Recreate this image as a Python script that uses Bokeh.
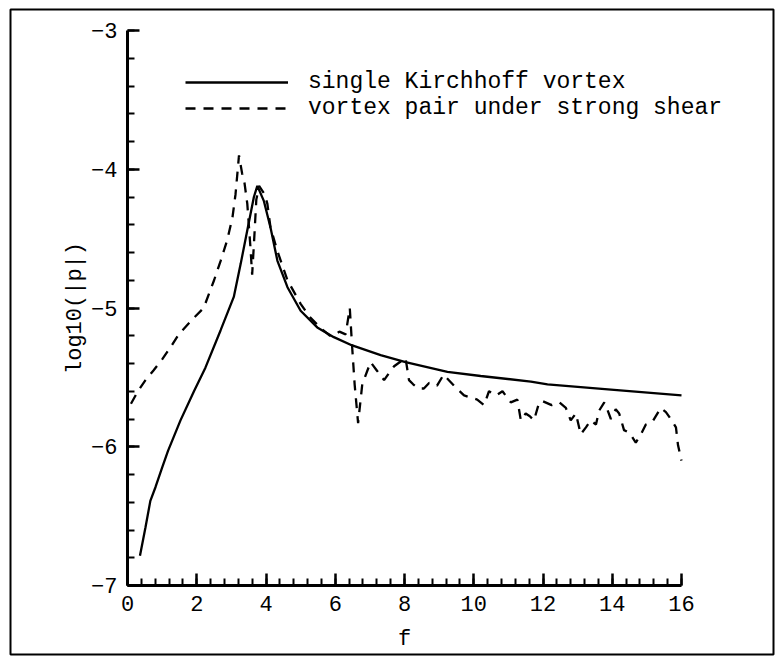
from bokeh.plotting import figure
from bokeh.models import Range1d, Legend, LegendItem, BoxAnnotation, SingleIntervalTicker
from bokeh.embed import file_html
from bokeh.resources import INLINE

# single Kirchhoff vortex
f_single = [0.36, 0.52, 0.66, 0.81, 1.0, 1.17, 1.53, 1.92, 2.25, 2.69, 3.07, 3.27, 3.46, 3.65, 3.75,
            3.94, 4.13, 4.33, 4.62, 5.0, 5.48, 5.96, 6.49, 7.31, 8.03, 9.24, 10.2, 11.65, 12.13, 14.05, 16.0]
p_single = [-6.785, -6.58, -6.39, -6.29, -6.15, -6.03, -5.81, -5.60, -5.43, -5.16, -4.92, -4.68, -4.44, -4.20, -4.12,
            -4.23, -4.42, -4.66, -4.85, -5.02, -5.14, -5.21, -5.27, -5.34, -5.39, -5.46, -5.49, -5.53, -5.55, -5.59, -5.63]

# vortex pair under strong shear
f_pair = [0.1, 0.3, 0.52, 0.75, 1.0, 1.25, 1.48, 1.7, 1.92, 2.2, 2.5, 2.69, 2.88, 3.03, 3.12, 3.22, 3.31, 3.38,
          3.46, 3.55, 3.6, 3.66, 3.72, 3.8, 3.88, 3.96, 4.04, 4.13, 4.33, 4.62, 5.0, 5.25, 5.48, 5.65, 5.85,
          6.0, 6.12, 6.3, 6.42, 6.48, 6.56, 6.66, 6.78, 7.02, 7.2, 7.41, 7.55, 7.7, 8.03, 8.13, 8.25, 8.4,
          8.56, 8.71, 8.94, 9.13, 9.43, 9.72, 10.1, 10.3, 10.44, 10.65, 10.83, 11.07, 11.26, 11.36, 11.5,
          11.62, 11.74, 11.89, 11.98, 12.25, 12.47, 12.66, 12.8, 12.95, 13.09, 13.24, 13.38, 13.53, 13.62,
          13.77, 13.87, 13.96, 14.1, 14.2, 14.34, 14.5, 14.68, 14.83, 14.97, 15.16, 15.4, 15.55, 15.69,
          15.84, 15.9, 16.0]
p_pair = [-5.69, -5.60, -5.52, -5.45, -5.37, -5.28, -5.19, -5.13, -5.07, -5.00, -4.80, -4.66, -4.51, -4.35, -4.18, -3.90, -4.03, -4.10,
          -4.25, -4.56, -4.76, -4.50, -4.22, -4.12, -4.15, -4.18, -4.25, -4.42, -4.59, -4.80, -4.97, -5.06, -5.12, -5.16, -5.20,
          -5.19, -5.17, -5.19, -5.00, -5.25, -5.55, -5.83, -5.55, -5.39, -5.45, -5.52, -5.47, -5.42, -5.36, -5.52, -5.55, -5.58,
          -5.58, -5.54, -5.56, -5.48, -5.56, -5.63, -5.66, -5.70, -5.60, -5.63, -5.60, -5.68, -5.66, -5.81, -5.76,
          -5.78, -5.81, -5.68, -5.67, -5.70, -5.68, -5.72, -5.81, -5.76, -5.91, -5.86, -5.81, -5.84, -5.74,
          -5.68, -5.74, -5.80, -5.73, -5.76, -5.88, -5.90, -5.97, -5.91, -5.84, -5.82, -5.72, -5.75, -5.80,
          -5.86, -5.99, -6.10]

x_axis_limits = (0, 16)
y_axis_limits = (-7, -3)
y_tick_values = [-7, -6, -5, -4, -3]
y_tick_labels = ["\u22127", "\u22126", "\u22125", "\u22124", "\u22123"]
series_names = ["single Kirchhoff vortex", "vortex pair under strong shear"]

FONT = "Liberation Mono"
W, H = 782, 656
# pixel placement of the axes box inside the canvas
AX_LEFT, AX_RIGHT, AX_TOP, AX_BOTTOM = 127, 681, 30, 585
sx = (AX_RIGHT - AX_LEFT) / (x_axis_limits[1] - x_axis_limits[0])
sy = (AX_BOTTOM - AX_TOP) / (y_axis_limits[1] - y_axis_limits[0])
x_start = x_axis_limits[0] - AX_LEFT / sx
x_end = x_axis_limits[1] + (W - AX_RIGHT) / sx
y_end = y_axis_limits[1] + AX_TOP / sy
y_start = y_axis_limits[0] - (H - AX_BOTTOM) / sy

p = figure(width=W, height=H, output_backend="svg", toolbar_location=None,
           x_range=Range1d(x_start, x_end), y_range=Range1d(y_start, y_end),
           min_border=0, min_border_left=0, min_border_right=0, min_border_top=0, min_border_bottom=0)
p.xgrid.visible = False
p.ygrid.visible = False
p.outline_line_color = None
p.background_fill_color = "white"
p.border_fill_color = "white"

r1 = p.line(f_single, p_single, line_color="black", line_width=2.3)
r2 = p.line(f_pair, p_pair, line_color="black", line_width=2.3, line_dash="10 8")

for ax in (p.xaxis[0], p.yaxis[0]):
    ax.axis_line_width = 3
    ax.axis_line_color = "black"
    ax.major_tick_in = 12
    ax.major_tick_out = 0
    ax.minor_tick_in = 7
    ax.minor_tick_out = 0
    ax.major_tick_line_width = 2.5
    ax.minor_tick_line_width = 2
    ax.major_label_text_font = FONT
    ax.major_label_text_font_size = "22px"
    ax.major_label_text_color = "black"
    ax.axis_label_text_font = FONT
    ax.axis_label_text_font_size = "22px"
    ax.axis_label_text_font_style = "normal"
    ax.axis_label_text_color = "black"

p.xaxis.ticker = SingleIntervalTicker(interval=2, num_minor_ticks=5)
p.yaxis.ticker = SingleIntervalTicker(interval=1, num_minor_ticks=5)
p.xaxis.bounds = x_axis_limits
p.yaxis.bounds = y_axis_limits
p.xaxis.fixed_location = y_axis_limits[0]
p.yaxis.fixed_location = x_axis_limits[0]
p.yaxis.major_label_overrides = dict(zip(y_tick_values, y_tick_labels))
p.xaxis.axis_label = "f"
p.yaxis.axis_label = "log10(|p|)"
p.xaxis.major_label_standoff = 10
p.yaxis.major_label_standoff = 10
p.xaxis.axis_label_standoff = 13
p.yaxis.axis_label_standoff = 0

legend = Legend(items=[LegendItem(label=series_names[0], renderers=[r1]),
                       LegendItem(label=series_names[1], renderers=[r2])],
                location=(185, 535), glyph_width=103, glyph_height=24, label_height=24,
                label_standoff=20, spacing=-2, padding=0, margin=0,
                border_line_alpha=0, background_fill_alpha=0,
                label_text_font=FONT, label_text_font_size="23px", label_text_color="black")
p.add_layout(legend)

frame_box = BoxAnnotation(left=10, right=773, top=9, bottom=654,
                          left_units="canvas", right_units="canvas", top_units="canvas", bottom_units="canvas",
                          fill_alpha=0, line_color="black", line_alpha=1.0, line_width=2)
p.add_layout(frame_box)

open("out.html", "w").write(file_html(p, INLINE))
